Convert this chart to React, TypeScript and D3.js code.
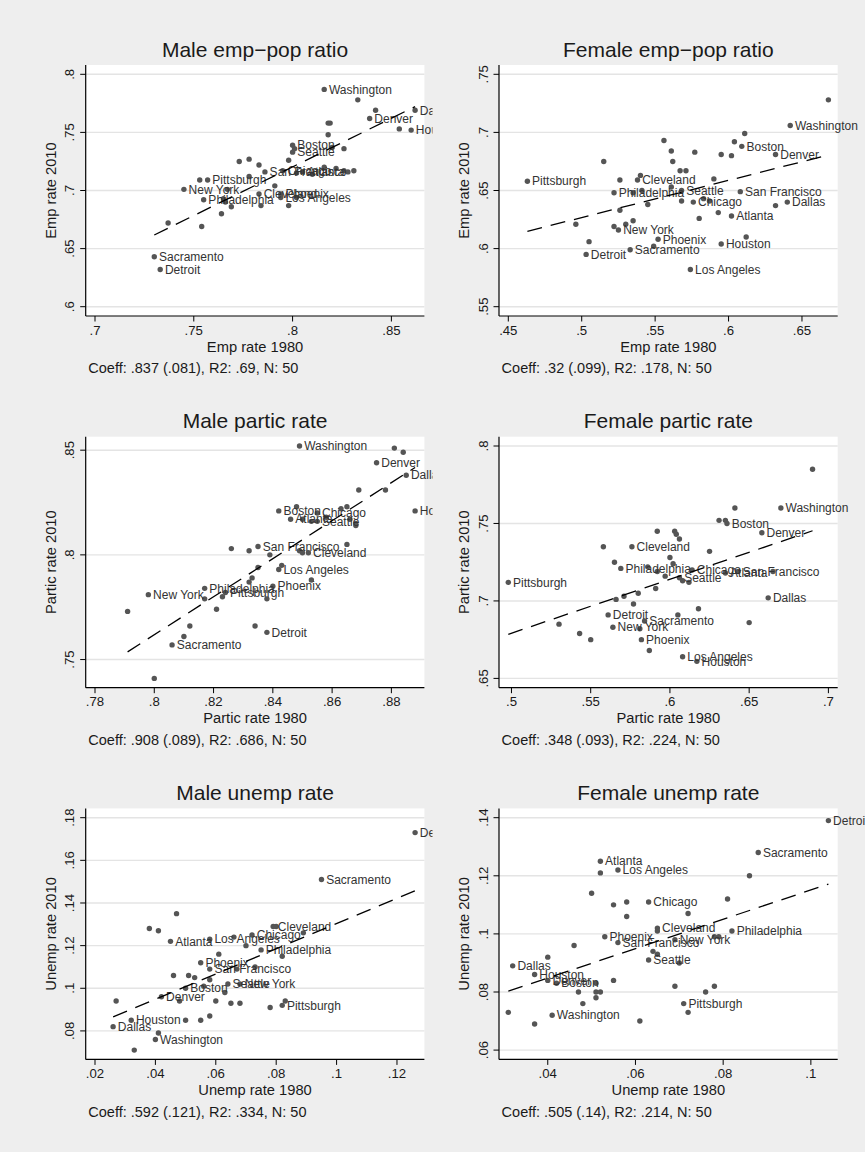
import { useEffect, useRef } from 'react'
import * as d3 from 'd3'

// the first 17 values of every series belong to these cities, in this order
const cities = [
    'Washington', 'Denver', 'Dallas', 'Houston', 'Boston', 'Seattle', 'San Francisco',
    'Chicago', 'Atlanta', 'Pittsburgh', 'New York', 'Philadelphia', 'Cleveland',
    'Phoenix', 'Los Angeles', 'Sacramento', 'Detroit'
]

const maleEmp1980 = [
    .816, .839, .862, .860, .800, .800, .786, .795, .805, .757, .745, .755, .783, .794, .794, .730, .733,
    .753, .767, .765, .766, .764, .769, .737, .754, .773, .833, .842, .854, .818, .819, .818, .798, .826,
    .820, .778, .783, .802, .810, .816, .822, .826, .828, .831, .778, .791, .784, .798, .801, .802
]
const maleEmp2010 = [
    .787, .762, .769, .752, .739, .733, .716, .717, .716, .709, .701, .692, .697, .697, .694, .643, .632,
    .709, .701, .693, .690, .680, .686, .672, .669, .725, .778, .769, .753, .758, .758, .748, .726, .736,
    .737, .727, .722, .715, .714, .720, .719, .717, .716, .717, .712, .704, .687, .687, .736, .694
]

const femaleEmp1980 = [
    .642, .632, .640, .595, .609, .568, .608, .576, .602, .463, .525, .522, .538, .552, .574, .533, .503,
    .515, .526, .540, .541, .535, .545, .526, .496, .522, .530, .535, .505, .668, .611, .604, .556, .561,
    .577, .562, .595, .602, .567, .571, .590, .561, .583, .587, .568, .632, .593, .580, .612, .549
]
const femaleEmp2010 = [
    .706, .681, .640, .604, .688, .650, .649, .640, .628, .658, .616, .648, .659, .608, .582, .599, .595,
    .675, .659, .663, .650, .648, .638, .633, .621, .619, .621, .624, .606, .728, .699, .692, .693, .684,
    .683, .675, .681, .680, .667, .667, .660, .653, .643, .641, .641, .637, .631, .626, .610, .602
]

const malePartic1980 = [
    .849, .875, .885, .888, .842, .855, .835, .855, .846, .824, .798, .817, .852, .840, .842, .806, .838,
    .826, .817, .791, .821, .812, .810, .800, .881, .884, .869, .878, .865, .863, .853, .858, .866, .868,
    .868, .832, .839, .849, .850, .865, .835, .843, .833, .832, .853, .838, .834, .848, .823, .850
]
const malePartic2010 = [
    .852, .844, .838, .821, .821, .816, .804, .820, .817, .782, .781, .784, .801, .785, .793, .757, .763,
    .803, .779, .773, .774, .766, .761, .741, .851, .849, .831, .831, .823, .822, .816, .818, .817, .815,
    .814, .802, .800, .802, .801, .805, .794, .795, .789, .787, .788, .779, .766, .823, .780, .817
]

const femalePartic1980 = [
    .670, .658, .662, .617, .636, .606, .643, .614, .635, .498, .564, .569, .576, .582, .608, .584, .561,
    .558, .565, .586, .580, .571, .566, .577, .530, .543, .550, .587, .690, .641, .631, .635, .592, .603,
    .604, .606, .625, .600, .602, .592, .608, .612, .665, .591, .618, .605, .650, .597, .581
]
const femalePartic2010 = [
    .760, .744, .702, .661, .750, .715, .719, .720, .718, .712, .683, .721, .735, .675, .664, .687, .691,
    .735, .725, .722, .705, .703, .701, .698, .685, .679, .675, .668, .785, .760, .752, .752, .745, .745,
    .743, .740, .732, .728, .724, .719, .713, .712, .719, .708, .695, .691, .686, .716, .682
]

const maleUnemp1980 = [
    .040, .042, .026, .032, .050, .064, .058, .072, .045, .082, .068, .075, .079, .055, .058, .095, .126,
    .027, .038, .041, .047, .066, .046, .051, .053, .061, .058, .056, .048, .063, .065, .050, .055, .058,
    .080, .089, .070, .082, .067, .073, .078, .083, .033, .041, .060, .068
]
const maleUnemp2010 = [
    .076, .096, .082, .085, .100, .102, .109, .125, .122, .092, .102, .118, .129, .112, .123, .151, .173,
    .094, .128, .127, .135, .124, .106, .106, .105, .116, .104, .101, .094, .098, .093, .085, .085, .087,
    .129, .126, .120, .115, .109, .110, .091, .094, .071, .079, .094, .093
]

const femaleUnemp1980 = [
    .041, .040, .032, .037, .042, .063, .056, .063, .052, .071, .069, .082, .065, .053, .056, .088, .104,
    .052, .050, .055, .058, .058, .046, .040, .051, .055, .047, .051, .052, .048, .051, .031, .037, .061,
    .086, .081, .072, .065, .079, .078, .064, .065, .070, .069, .076, .078, .072
]
const femaleUnemp2010 = [
    .072, .084, .089, .086, .083, .091, .097, .111, .125, .076, .098, .101, .102, .099, .122, .128, .139,
    .121, .114, .110, .111, .106, .096, .092, .083, .084, .080, .080, .080, .076, .078, .073, .069, .070,
    .120, .112, .107, .101, .099, .099, .094, .093, .090, .082, .080, .082, .073
]

const titles = [
    'Male emp\u2212pop ratio', 'Female emp\u2212pop ratio',
    'Male partic rate', 'Female partic rate',
    'Male unemp rate', 'Female unemp rate'
]
const xTitles = ['Emp rate 1980', 'Emp rate 1980', 'Partic rate 1980', 'Partic rate 1980', 'Unemp rate 1980', 'Unemp rate 1980']
const yTitles = ['Emp rate 2010', 'Emp rate 2010', 'Partic rate 2010', 'Partic rate 2010', 'Unemp rate 2010', 'Unemp rate 2010']
const coefs = [.837, .32, .908, .348, .592, .505]
const notes = [
    'Coeff: .837 (.081), R2: .69, N: 50',
    'Coeff: .32 (.099), R2: .178, N: 50',
    'Coeff: .908 (.089), R2: .686, N: 50',
    'Coeff: .348 (.093), R2: .224, N: 50',
    'Coeff: .592 (.121), R2: .334, N: 50',
    'Coeff: .505 (.14), R2: .214, N: 50'
]
const xTickValues = [
    [.7, .75, .8, .85],
    [.45, .5, .55, .6, .65],
    [.78, .8, .82, .84, .86, .88],
    [.5, .55, .6, .65, .7],
    [.02, .04, .06, .08, .1, .12],
    [.04, .06, .08, .1]
]
const yTickValues = [
    [.6, .65, .7, .75, .8],
    [.55, .6, .65, .7, .75],
    [.75, .8, .85],
    [.65, .7, .75, .8],
    [.08, .1, .12, .14, .16, .18],
    [.06, .08, .1, .12, .14]
]
const series = [
    [maleEmp1980, maleEmp2010],
    [femaleEmp1980, femaleEmp2010],
    [malePartic1980, malePartic2010],
    [femalePartic1980, femalePartic2010],
    [maleUnemp1980, maleUnemp2010],
    [femaleUnemp1980, femaleUnemp2010]
]

const W = 865
const H = 1152
const BG = '#eeeeee'
const FONT = '"Liberation Sans", Arial, Helvetica, sans-serif'

const fmt = (v: number) => String(+v.toFixed(3)).replace(/^0\./, '.')

function App() {
    const ref = useRef<SVGSVGElement>(null)

    useEffect(() => {
        const svg = d3.select(ref.current)
        svg.selectAll('*').remove()
        svg.append('rect').attr('width', W).attr('height', H).attr('fill', BG)

        const cellW = 413.3
        const cellH = 371.7
        const left = 66.5, right = 405.2, top = 46.5, bottom = 297.5
        const pad = 9.3

        series.forEach(([xs, ys], i) => {
            const col = i % 2
            const row = Math.floor(i / 2)
            const g = svg
                .append('g')
                .attr('transform', `translate(${19.2 + col * cellW}, ${18.5 + row * cellH})`)

            g.append('rect').attr('width', cellW).attr('height', cellH).attr('fill', BG)
            g.append('rect')
                .attr('x', left).attr('y', top)
                .attr('width', right - left).attr('height', bottom - top)
                .attr('fill', 'white')

            const xt = xTickValues[i]
            const yt = yTickValues[i]
            const x = d3
                .scaleLinear()
                .domain([Math.min(xt[0], d3.min(xs)!), Math.max(xt[xt.length - 1], d3.max(xs)!)])
                .range([left + pad, right - pad])
            const y = d3
                .scaleLinear()
                .domain([Math.min(yt[0], d3.min(ys)!), Math.max(yt[yt.length - 1], d3.max(ys)!)])
                .range([bottom - pad, top + pad])

            // grid
            g.selectAll('.grid')
                .data(yt)
                .enter()
                .append('line')
                .attr('x1', left).attr('x2', right)
                .attr('y1', d => y(d)).attr('y2', d => y(d))
                .attr('stroke', '#e4e4e4')
                .attr('stroke-width', 1.4)

            // axes
            g.append('line')
                .attr('x1', left).attr('x2', left).attr('y1', top).attr('y2', bottom)
                .attr('stroke', 'black').attr('stroke-width', 1.2)
            g.append('line')
                .attr('x1', left).attr('x2', right).attr('y1', bottom).attr('y2', bottom)
                .attr('stroke', 'black').attr('stroke-width', 1.2)

            yt.forEach(v => {
                g.append('line')
                    .attr('x1', left - 5.5).attr('x2', left)
                    .attr('y1', y(v)).attr('y2', y(v))
                    .attr('stroke', 'black').attr('stroke-width', 1)
                g.append('text')
                    .attr('transform', `translate(${left - 11.4}, ${y(v)}) rotate(-90)`)
                    .attr('text-anchor', 'middle')
                    .style('font', `13.2px ${FONT}`)
                    .attr('fill', '#1a1a1a')
                    .text(fmt(v))
            })
            xt.forEach(v => {
                g.append('line')
                    .attr('x1', x(v)).attr('x2', x(v))
                    .attr('y1', bottom).attr('y2', bottom + 5.5)
                    .attr('stroke', 'black').attr('stroke-width', 1)
                g.append('text')
                    .attr('x', x(v)).attr('y', bottom + 18.5)
                    .attr('text-anchor', 'middle')
                    .style('font', `13.2px ${FONT}`)
                    .attr('fill', '#1a1a1a')
                    .text(fmt(v))
            })

            // titles
            g.append('text')
                .attr('x', (left + right) / 2).attr('y', top - 8.3)
                .attr('text-anchor', 'middle')
                .style('font', `21px ${FONT}`)
                .attr('fill', '#1a1a1a')
                .text(titles[i])
            g.append('text')
                .attr('x', (left + right) / 2).attr('y', bottom + 35.5)
                .attr('text-anchor', 'middle')
                .style('font', `14.7px ${FONT}`)
                .attr('fill', '#1a1a1a')
                .text(xTitles[i])
            g.append('text')
                .attr('transform', `translate(${left - 30.2}, ${(top + bottom) / 2}) rotate(-90)`)
                .attr('text-anchor', 'middle')
                .style('font', `14.7px ${FONT}`)
                .attr('fill', '#1a1a1a')
                .text(yTitles[i])
            g.append('text')
                .attr('x', left + 2.6).attr('y', bottom + 57.3)
                .style('font', `14.5px ${FONT}`)
                .attr('fill', '#1a1a1a')
                .text(notes[i])

            // points + labels
            const pts = xs.map((v, k) => ({ x: v, y: ys[k], name: cities[k] || '' }))
            g.selectAll('.dot')
                .data(pts)
                .enter()
                .append('circle')
                .attr('cx', d => x(d.x))
                .attr('cy', d => y(d.y))
                .attr('r', 2.7)
                .attr('fill', '#555')
            g.selectAll('.lab')
                .data(pts.filter(d => d.name))
                .enter()
                .append('text')
                .attr('x', d => x(d.x) + 4.7)
                .attr('y', d => y(d.y))
                .attr('dy', '0.35em')
                .style('font', `12px ${FONT}`)
                .attr('fill', '#333')
                .text(d => d.name)

            // fitted line
            const mx = d3.mean(xs)!
            const my = d3.mean(ys)!
            const ext = d3.extent(xs) as [number, number]
            const fit = ext.map(v => ({ x: v, y: my + coefs[i] * (v - mx) }))
            const path = d3
                .line<{ x: number; y: number }>()
                .x(d => x(d.x))
                .y(d => y(d.y))
            g.append('path')
                .datum(fit)
                .attr('d', path)
                .attr('fill', 'none')
                .attr('stroke', 'black')
                .attr('stroke-width', 1.3)
                .attr('stroke-dasharray', '15 9')
        })
    }, [])

    return (
        <svg
            ref={ref}
            width={W}
            height={H}
            style={{ position: 'absolute', left: 0, top: 0, display: 'block' }}
        />
    )
}

export default App
